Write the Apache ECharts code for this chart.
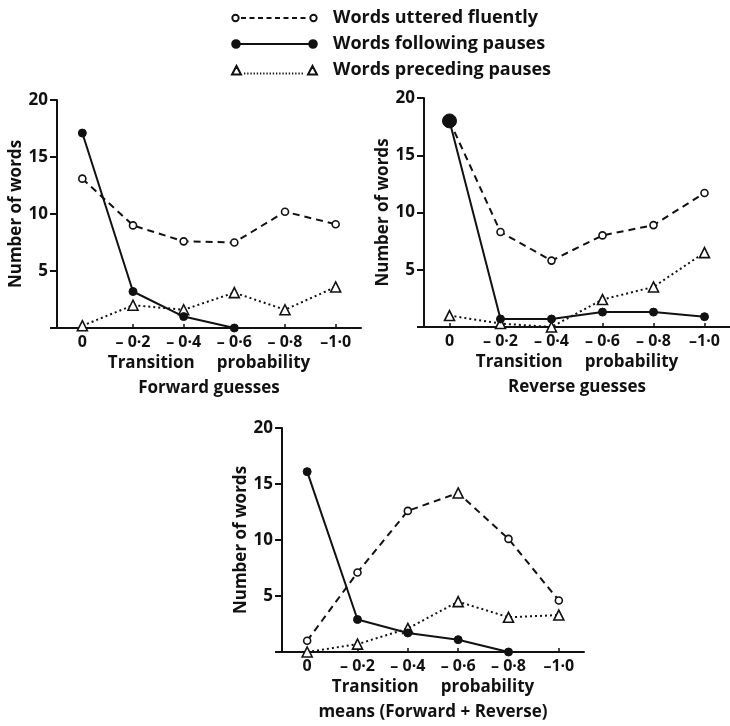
<!DOCTYPE html>
<html>
<head>
<meta charset="utf-8">
<script src="https://cdn.jsdelivr.net/npm/echarts@6/dist/echarts.min.js"></script>
<style>html,body{margin:0;padding:0;background:#fff}#c{width:730px;height:726px}</style>
</head>
<body>
<div id="c"></div>
<script>
// ---- data ----
const categories = ['0', '– 0·2', '– 0·4', '– 0·6', '– 0·8', '–1·0'];
const seriesNames = ['Words uttered fluently', 'Words following pauses', 'Words preceding pauses'];
const panelTitles = ['Transition     probability\nForward guesses',
                     'Transition     probability\nReverse guesses',
                     'Transition     probability\nmeans (Forward + Reverse)'];
const yAxisTitle = 'Number of words';
const fwdFluent    = [13.1, 9.0, 7.6, 7.5, 10.2, 9.1];
const fwdFollowing = [17.1, 3.2, 1.0, 0, null, null];
const fwdPreceding = [0.2, 2.0, 1.6, 3.1, 1.6, 3.6];
const revFluent    = [18.0, 8.3, 5.8, 8.0, 8.9, 11.7];
const revFollowing = [18.0, 0.7, 0.7, 1.3, 1.3, 0.9];
const revPreceding = [1.0, 0.3, 0.0, 2.4, 3.5, 6.5];
const meanFluent    = [1.0, 7.1, 12.6, 14.2, 10.1, 4.6];
const meanFollowing = [16.1, 2.9, 1.7, 1.1, 0, null];
const meanPreceding = [0, 0.7, 2.1, 4.5, 3.1, 3.3];
const yMin = 0, yMax = 20, yStep = 5;

// ---- layout / style ----
const FONT = 'Open Sans';
const INK = '#111';
const grids = [
  {left: 57, top: 100, width: 304, height: 228},
  {left: 424, top: 98, width: 308, height: 229},
  {left: 282, top: 428, width: 302, height: 228}
];
const panelData = [
  [fwdFluent, fwdFollowing, fwdPreceding],
  [revFluent, revFollowing, revPreceding],
  [meanFluent, meanFollowing, meanPreceding]
];
const styles = [
  {symbol: 'circle', symbolSize: 7, itemStyle: {color: '#fff', borderColor: INK, borderWidth: 1.6},
   lineStyle: {color: INK, width: 2, type: [7, 5]}},
  {symbol: 'circle', symbolSize: 8, itemStyle: {color: INK, borderColor: INK, borderWidth: 1},
   lineStyle: {color: INK, width: 2, type: 'solid'}},
  {symbol: 'triangle', symbolSize: 10, itemStyle: {color: '#fff', borderColor: INK, borderWidth: 1.6},
   lineStyle: {color: INK, width: 2, type: [2, 3]}}
];

// legend icons: marker at both ends of the line sample (box 96 x 12)
function ring(cx, cy, r) {
  return `M${cx + r},${cy} A${r},${r} 0 1 1 ${cx - r},${cy} A${r},${r} 0 1 1 ${cx + r},${cy} Z `;
}
function segs(x0, x1, y, dash, gap) {
  let s = '';
  for (let x = x0; x + dash <= x1; x += dash + gap) s += `M${x},${y} L${x + dash},${y} `;
  return s;
}
const BOX = 'M0,0 ';
const BOX_END = 'M96,12';
const legendIcons = [
  'path://' + BOX + ring(3.5, 6, 3.2) + segs(9, 77, 6, 5, 3.5) + ring(81.5, 6, 3.2) + BOX_END,
  'path://' + BOX + ring(4, 6, 3.8) + 'M8,6 L77,6 ' + ring(81, 6, 3.8) + BOX_END,
  'path://' + BOX + 'M0,10.5 L4.5,2 L9,10.5 Z ' + segs(12, 74, 9.5, 1.3, 1.9) + 'M76,10.5 L80.5,2 L85,10.5 Z ' + BOX_END
];
const legendItemStyles = [
  {color: '#fff', borderColor: INK, borderWidth: 1.9},
  {color: INK, borderColor: INK, borderWidth: 2},
  {color: '#fff', borderColor: INK, borderWidth: 2}
];

const xAxes = grids.map((g, i) => ({
  type: 'category', gridIndex: i, data: categories, boundaryGap: true,
  axisLine: {lineStyle: {color: INK, width: 2}},
  axisTick: {show: true, inside: true, length: 4, alignWithLabel: true, lineStyle: {color: INK, width: 1.5}},
  axisLabel: {color: INK, fontFamily: FONT, fontWeight: 'bold', fontSize: 16, margin: 6, interval: 0},
  name: panelTitles[i], nameLocation: 'middle', nameGap: 23,
  nameTextStyle: {color: INK, fontFamily: FONT, fontWeight: 'bold', fontSize: 17, lineHeight: 25, verticalAlign: 'top'}
}));
const yAxes = grids.map((g, i) => ({
  type: 'value', gridIndex: i, min: yMin, max: yMax, interval: yStep,
  splitLine: {show: false},
  axisLine: {show: true, lineStyle: {color: INK, width: 2}},
  axisTick: {show: true, length: 7, lineStyle: {color: INK, width: 2}},
  axisLabel: {color: INK, fontFamily: FONT, fontWeight: 'bold', fontSize: 17, margin: 9,
              formatter: v => v === 0 ? '' : String(v)},
  name: yAxisTitle, nameLocation: 'middle', nameGap: 25, nameRotate: 90,
  nameTextStyle: {color: INK, fontFamily: FONT, fontWeight: 'bold', fontSize: 17}
}));

const series = [];
panelData.forEach((arrs, p) => {
  arrs.forEach((vals, s) => {
    const st = styles[s];
    const data = vals.map((v, k) => {
      if (p === 1 && s === 1 && k === 0) return {value: v, symbolSize: 14};
      if (p === 2 && s === 0 && k === 3) return {value: v, symbol: 'triangle', symbolSize: 10};
      return v;
    });
    series.push({
      type: 'line', name: seriesNames[s], xAxisIndex: p, yAxisIndex: p,
      data, symbol: st.symbol, symbolSize: st.symbolSize, showAllSymbol: true,
      itemStyle: st.itemStyle, lineStyle: st.lineStyle, clip: false,
      connectNulls: false, animation: false, z: s === 1 ? 3 : 2
    });
  });
});

const chart = echarts.init(document.getElementById('c'), null, {renderer: 'canvas'});
chart.setOption({
  backgroundColor: '#fff',
  animation: false,
  legend: {
    data: seriesNames.map((n, i) => ({name: n, icon: legendIcons[i], itemStyle: legendItemStyles[i]})),
    orient: 'vertical', left: 226, top: 4,
    itemWidth: 96, itemHeight: 12, itemGap: 8, symbolKeepAspect: true,
    textStyle: {color: INK, fontFamily: FONT, fontWeight: 'bold', fontSize: 18}
  },
  grid: grids.map(g => Object.assign({containLabel: false}, g)),
  xAxis: xAxes,
  yAxis: yAxes,
  series
});
</script>
</body>
</html>
